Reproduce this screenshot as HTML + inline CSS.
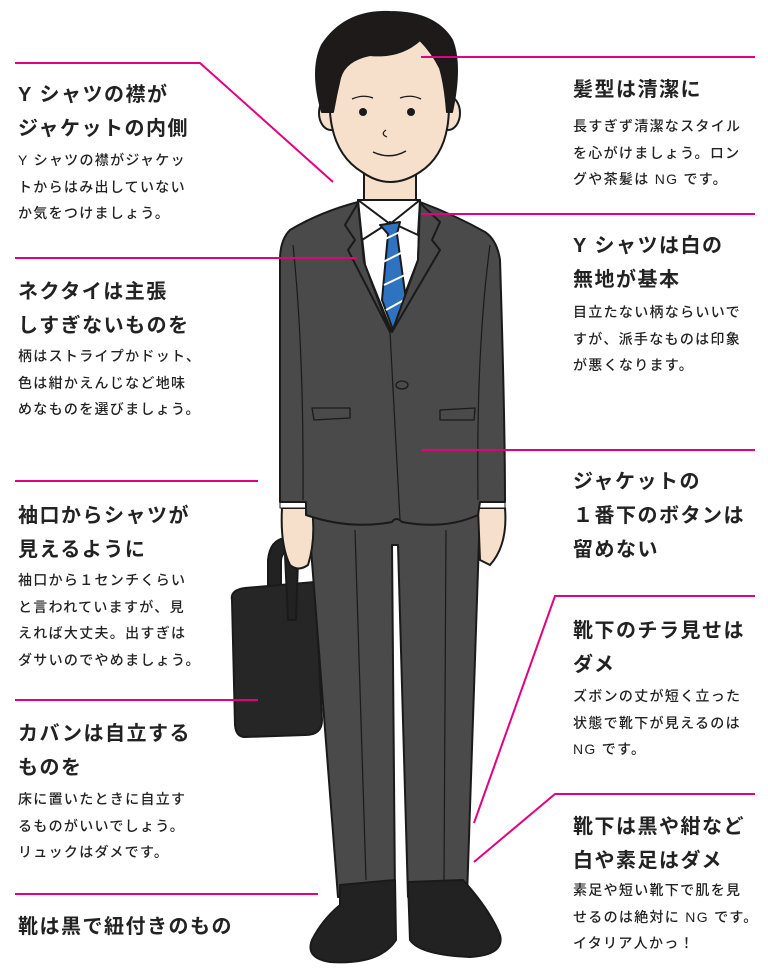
<!DOCTYPE html>
<html><head><meta charset="utf-8"><style>
body{margin:0;width:768px;height:972px;background:#fff;position:relative;overflow:hidden;font-family:"Liberation Sans","Noto Sans CJK JP",sans-serif;color:#222}
.h{position:absolute;font-weight:bold;font-size:20px;letter-spacing:1.5px;line-height:34px;white-space:nowrap}
.b{position:absolute;font-size:14px;letter-spacing:1.3px;line-height:26.5px;white-space:nowrap;font-weight:500}
svg{position:absolute;left:0;top:0}
</style></head><body>
<svg width="768" height="972" viewBox="0 0 768 972">
<g stroke="#1a1a1a" stroke-width="2" stroke-linejoin="round">
<!-- bag -->
<path d="M268 605 L268 560 Q270 540 285 538 L300 540 L300 552 L287 552 Q281 553 281 562 L281 605 Z" fill="#222"/>
<path d="M232 600 Q230 590 245 588 L315 582 L322 720 Q322 735 305 735 L245 737 Q236 737 235 725 Z" fill="#262626"/>
<path d="M285 555 L298 560 L296 620 L288 620 Z" fill="#222"/>
<!-- trousers -->
<path d="M308 510 L480 510 L467 897 L408 897 L398 545 L392 545 L395 897 L338 897 Z" fill="#4a4a4a"/>
<line x1="355" y1="530" x2="366" y2="880" stroke-width="1.2"/>
<line x1="446" y1="530" x2="444" y2="880" stroke-width="1.2"/>
<!-- shoes -->
<path d="M340 885 L395 880 L396 940 Q380 965 330 962 Q305 958 312 940 Q322 920 340 905 Z" fill="#222"/>
<path d="M408 882 L463 880 Q490 910 500 935 Q505 955 470 957 Q420 955 410 940 Z" fill="#222"/>
<!-- hands -->
<path d="M282 508 L312 508 Q316 540 308 565 Q298 572 290 565 Q280 545 282 508 Z" fill="#f6e0cb"/>
<path d="M478 508 L505 508 Q508 545 490 565 L480 560 Z" fill="#f6e0cb"/>
<!-- cuffs -->
<rect x="280" y="500" width="32" height="8" fill="#fff" stroke-width="1"/>
<rect x="475" y="500" width="30" height="8" fill="#fff" stroke-width="1"/>
<!-- neck -->
<rect x="364" y="170" width="52" height="40" fill="#f6e0cb"/>
<!-- jacket -->
<path d="M358 202 Q320 212 290 230 Q280 240 280 260 L280 502 L306 502 L306 515 Q350 530 392 522 Q396 516 402 522 Q445 530 478 515 L480 502 L505 502 Q505 420 500 260 Q497 240 485 232 Q455 215 420 202 Z" fill="#4a4a4a"/>
<!-- shirt collar -->
<path d="M358 200 L420 200 L418 260 L391 330 L365 265 Z" fill="#fff"/>
<path d="M358 200 L390 224 L420 200 L418 235 L390 222 L362 240 Z" fill="#fff"/>
<!-- tie -->
<path d="M380 225 L400 222 L397 234 L406 300 L393 330 L382 300 L388 234 Z" fill="#2f73c0"/>
<g stroke="#fff" stroke-width="2"><line x1="383" y1="240" x2="400" y2="232"/><line x1="383" y1="262" x2="403" y2="252"/><line x1="384" y1="285" x2="405" y2="275"/><line x1="386" y1="310" x2="404" y2="300"/></g>
<!-- lapels -->
<path d="M358 203 L345 225 L355 240 L348 250 L390 332 L364 262 Z" fill="#4a4a4a"/>
<path d="M420 203 L440 222 L432 240 L440 250 L392 332 L418 260 Z" fill="#4a4a4a"/>
<line x1="390" y1="332" x2="400" y2="520" stroke-width="1.2"/>
<ellipse cx="402" cy="385" rx="6" ry="4" fill="#4a4a4a" stroke-width="1.3"/>
<path d="M312 408 L350 408 L350 418 L314 420 Z" fill="#4a4a4a" stroke-width="1.3"/>
<path d="M440 410 L475 408 L474 420 L440 420 Z" fill="#4a4a4a" stroke-width="1.3"/>
<path d="M293 245 Q304 350 303 500 M490 245 Q476 350 478 500" fill="none" stroke-width="1.2"/>
<!-- head -->
<ellipse cx="331" cy="113" rx="12" ry="17" fill="#f6e0cb"/>
<ellipse cx="448" cy="113" rx="12" ry="17" fill="#f6e0cb"/>
<path d="M330 90 Q326 150 362 172 Q390 192 420 172 Q454 150 448 90 Q448 35 390 35 Q332 35 330 90 Z" fill="#f6e0cb"/>
<path d="M322 112 Q310 70 322 45 Q345 10 390 12 Q435 12 452 40 Q462 65 452 112 L447 112 Q445 85 440 68 Q432 52 420 40 Q400 58 370 55 Q345 60 340 78 Q336 95 333 112 Z" fill="#1e1a1a"/>
</g>
<circle cx="363" cy="112" r="4" fill="#1a1a1a"/><circle cx="411" cy="112" r="4" fill="#1a1a1a"/>
<path d="M352 99 Q363 94 373 98 M400 98 Q411 94 421 99" stroke="#1a1a1a" stroke-width="1.3" fill="none"/>
<path d="M386 130 Q380 134 387 137" stroke="#1a1a1a" stroke-width="1.2" fill="none"/>
<path d="M373 152 Q390 160 406 151" stroke="#1a1a1a" stroke-width="1.5" fill="none"/>
<!-- pink lines -->
<g stroke="#e3007f" stroke-width="2" fill="none">
<polyline points="15,63 200,63 333,182"/>
<line x1="15" y1="258" x2="357" y2="258"/>
<line x1="15" y1="481" x2="258" y2="481"/>
<line x1="15" y1="700" x2="258" y2="700"/>
<line x1="15" y1="894" x2="318" y2="894"/>
<line x1="421" y1="57" x2="755" y2="57"/>
<line x1="421" y1="214" x2="755" y2="214"/>
<line x1="421" y1="450" x2="755" y2="450"/>
<polyline points="755,596 555,596 474,823"/>
<polyline points="755,794 555,794 474,862"/>
</g>
</svg>
<div class="h" style="left:18px;top:78px">Y シャツの襟が<br>ジャケットの内側</div>
<div class="b" style="left:18px;top:147px">Y シャツの襟がジャケッ<br>トからはみ出していない<br>か気をつけましょう。</div>
<div class="h" style="left:18px;top:275px">ネクタイは主張<br>しすぎないものを</div>
<div class="b" style="left:18px;top:343px">柄はストライプかドット、<br>色は紺かえんじなど地味<br>めなものを選びましょう。</div>
<div class="h" style="left:18px;top:499px">袖口からシャツが<br>見えるように</div>
<div class="b" style="left:18px;top:567px">袖口から１センチくらい<br>と言われていますが、見<br>えれば大丈夫。出すぎは<br>ダサいのでやめましょう。</div>
<div class="h" style="left:18px;top:717px">カバンは自立する<br>ものを</div>
<div class="b" style="left:18px;top:786px">床に置いたときに自立す<br>るものがいいでしょう。<br>リュックはダメです。</div>
<div class="h" style="left:18px;top:910px">靴は黒で紐付きのもの</div>
<div class="h" style="left:573px;top:73px">髪型は清潔に</div>
<div class="b" style="left:573px;top:113px">長すぎず清潔なスタイル<br>を心がけましょう。ロン<br>グや茶髪は NG です。</div>
<div class="h" style="left:573px;top:229px">Y シャツは白の<br>無地が基本</div>
<div class="b" style="left:573px;top:299px">目立たない柄ならいいで<br>すが、派手なものは印象<br>が悪くなります。</div>
<div class="h" style="left:573px;top:465px">ジャケットの<br>１番下のボタンは<br>留めない</div>
<div class="h" style="left:573px;top:614px">靴下のチラ見せは<br>ダメ</div>
<div class="b" style="left:573px;top:683px">ズボンの丈が短く立った<br>状態で靴下が見えるのは<br>NG です。</div>
<div class="h" style="left:573px;top:810px">靴下は黒や紺など<br>白や素足はダメ</div>
<div class="b" style="left:573px;top:877px">素足や短い靴下で肌を見<br>せるのは絶対に NG です。<br>イタリア人かっ！</div>
</body></html>
